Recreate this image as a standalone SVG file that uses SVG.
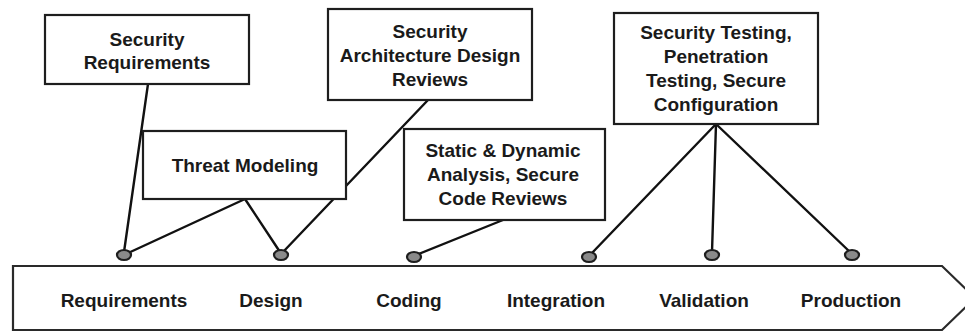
<svg xmlns="http://www.w3.org/2000/svg" width="965" height="332" viewBox="0 0 965 332">
  <style>
    .box { fill: #ffffff; stroke: #1e1e1e; stroke-width: 2.2; }
    .bar { fill: #ffffff; stroke: #2a2a2a; stroke-width: 2.2; }
    .link { fill: none; stroke: #111111; stroke-width: 2.4; stroke-linecap: round; }
    .pin { fill: #8a8a8a; stroke: #1e1e1e; stroke-width: 2.2; }
    text { font-family: "Liberation Sans", Arial, sans-serif; font-weight: bold; font-size: 19px; fill: #1a1a1a; text-anchor: middle; }
  </style>

  <!-- lifecycle phase bar -->
  <g id="phases">
    <polygon class="bar" points="13,266 942,266 975,298 942,330 13,330"/>
    <text x="124" y="307">Requirements</text>
    <text x="271" y="307">Design</text>
    <text x="409" y="307">Coding</text>
    <text x="556" y="307">Integration</text>
    <text x="704" y="307">Validation</text>
    <text x="851" y="307">Production</text>
  </g>

  <!-- connectors from activities to phases -->
  <g id="connectors">
    <line class="link" x1="148" y1="84" x2="124" y2="252"/>
    <line class="link" x1="245" y1="199" x2="126" y2="254"/>
    <line class="link" x1="245" y1="199" x2="280" y2="252"/>
    <line class="link" x1="428" y1="100" x2="283" y2="252"/>
    <line class="link" x1="503" y1="220" x2="416" y2="255"/>
    <line class="link" x1="716" y1="124" x2="591" y2="254"/>
    <line class="link" x1="716" y1="124" x2="712" y2="252"/>
    <line class="link" x1="716" y1="124" x2="850" y2="252"/>
  </g>

  <!-- phase anchor pins -->
  <g id="pins">
    <ellipse class="pin" cx="124" cy="255" rx="7" ry="5"/>
    <ellipse class="pin" cx="281" cy="255" rx="7" ry="5"/>
    <ellipse class="pin" cx="414" cy="257" rx="7" ry="5"/>
    <ellipse class="pin" cx="589" cy="257" rx="7" ry="5"/>
    <ellipse class="pin" cx="712" cy="255" rx="7" ry="5"/>
    <ellipse class="pin" cx="852" cy="255" rx="7" ry="5"/>
  </g>

  <g id="security-requirements">
    <rect class="box" x="45" y="15" width="204" height="69"/>
    <text x="147" y="46">Security</text>
    <text x="147" y="69">Requirements</text>
  </g>

  <g id="threat-modeling">
    <rect class="box" x="143" y="131" width="203" height="68"/>
    <text x="245" y="172">Threat Modeling</text>
  </g>

  <g id="architecture-reviews">
    <rect class="box" x="328" y="9" width="204" height="91"/>
    <text x="430" y="38">Security</text>
    <text x="430" y="62">Architecture Design</text>
    <text x="430" y="86">Reviews</text>
  </g>

  <g id="code-analysis">
    <rect class="box" x="404" y="129" width="201" height="91"/>
    <text x="503" y="157">Static &amp; Dynamic</text>
    <text x="503" y="181">Analysis, Secure</text>
    <text x="503" y="205">Code Reviews</text>
  </g>

  <g id="security-testing">
    <rect class="box" x="614" y="13" width="204" height="111"/>
    <text x="716" y="39">Security Testing,</text>
    <text x="716" y="63">Penetration</text>
    <text x="716" y="87">Testing, Secure</text>
    <text x="716" y="111">Configuration</text>
  </g>
</svg>
